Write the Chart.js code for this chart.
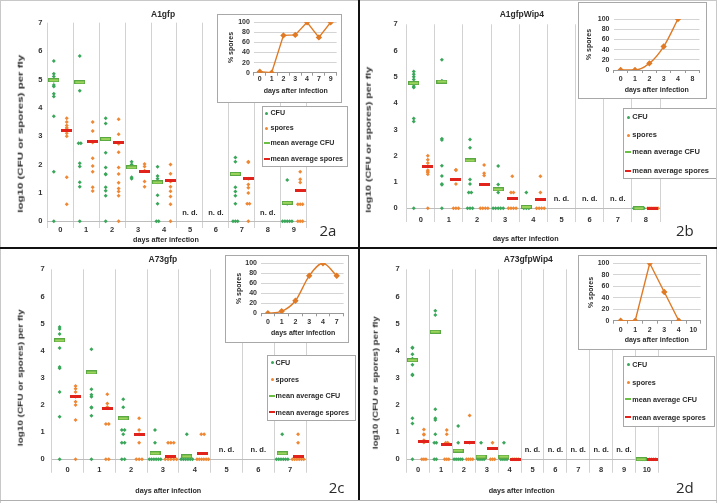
<!DOCTYPE html>
<html>
<head>
<meta charset="utf-8">
<script src="https://cdn.jsdelivr.net/npm/chart.js@4.4.1/dist/chart.umd.min.js"></script>
<style>
  html, body { margin: 0; padding: 0; background: #fff; }
  #fig { position: relative; width: 717px; height: 503px; overflow: hidden; font-family: "Liberation Sans", Arial, sans-serif; }
  #fig canvas { position: absolute; }
  .lbl { position: absolute; white-space: nowrap; line-height: 1; color: #2a2a2a; font-weight: bold; transform-origin: center center; }
  .box { position: absolute; box-sizing: border-box; background: #fff; border: 1px solid #a8a8a8; }
  .rule { position: absolute; }
</style>
</head>
<body>
<div id="fig"></div>
<script>
// ---- data (log10 values per fly) ----

// 2a  A1gfp
const a1Days = ['0', '1', '2', '3', '4', '5', '6', '7', '8', '9'];
const a1Cfu = [
  [5.65, 5.2, 5.1, 4.95, 4.8, 4.75, 4.5, 4.4, 3.7, 1.75, 0],
  [5.83, 4.6, 2.75, 2.75, 2.05, 1.93, 1.38, 1.22, 0],
  [3.63, 3.45, 2.9, 2.42, 1.9, 1.67, 1.65, 1.2, 1.08, 0.9, 0],
  [2.1, 2.0, 1.92, 1.55, 1.5],
  [1.92, 1.6, 1.5, 1.38, 0.92, 0.62, 0, 0],
  null, null,
  [2.25, 2.1, 1.68, 1.2, 1.05, 0.9, 0.62, 0, 0, 0],
  null,
  [1.46, 0.65, 0.62, 0, 0, 0, 0, 0]
];
const a1Spores = [
  [3.63, 3.5, 3.38, 3.3, 3.25, 3.1, 3.0, 1.55, 0.6],
  [3.5, 3.18, 2.8, 2.78, 2.22, 1.95, 1.75, 1.2, 1.07],
  [3.6, 3.07, 2.73, 2.43, 1.9, 1.67, 1.36, 1.16, 1.05, 0.9, 0],
  [2.02, 1.93, 1.78, 1.4, 1.22],
  [2.0, 1.68, 1.4, 1.22, 1.06, 0.87, 0.6, 0],
  null, null,
  [2.1, 2.08, 1.5, 1.3, 1.18, 1.0, 0.62, 0.62, 0],
  null,
  [1.75, 1.48, 1.37, 0.6, 0.6, 0.6, 0, 0, 0]
];
const a1CfuMean = [4.97, 4.9, 2.9, 1.9, 1.37, null, null, 1.67, null, 0.65];
const a1SporesMean = [3.2, 2.82, 2.76, 1.77, 1.43, null, null, 1.5, null, 1.1];
const a1InsetDays = ['0', '1', '2', '3', '4', '7', '9'];
const a1InsetSpores = [2, 0, 74, 75, 100, 70, 100];

// 2b  A1gfpWip4
const b1Days = ['0', '1', '2', '3', '4', '5', '6', '7', '8'];
const b1Cfu = [
  [5.2, 5.1, 5.0, 4.9, 4.8, 4.7, 4.62, 4.6, 3.42, 3.3, 0],
  [5.65, 4.85, 2.65, 2.6, 1.62, 1.23, 0.92, 0.9, 0],
  [2.62, 2.3, 1.1, 0.92, 0.6, 0.6, 0, 0, 0],
  [1.61, 0.91, 0.6, 0, 0, 0, 0, 0],
  [0.6, 0, 0, 0],
  null, null, null,
  [0, 0, 0, 0, 0, 0]
];
const b1Spores = [
  [2.0, 1.85, 1.72, 1.6, 1.45, 1.4, 1.36, 1.3, 0],
  [1.47, 1.45, 0.92, 0, 0, 0],
  [1.65, 1.33, 1.25, 0, 0, 0, 0],
  [1.22, 0.6, 0.6, 0, 0, 0, 0],
  [1.22, 0.6, 0, 0, 0, 0],
  null, null, null,
  [0, 0, 0, 0, 0, 0]
];
const b1CfuMean = [4.76, 4.82, 1.82, 0.72, 0.05, null, null, null, 0];
const b1SporesMean = [1.6, 1.08, 0.92, 0.38, 0.35, null, null, null, 0];
const b1InsetDays = ['0', '1', '2', '3', '4', '8'];
const b1InsetSpores = [0, 0, 13, 46, 100, null];

// 2c  A73gfp
const c1Days = ['0', '1', '2', '3', '4', '5', '6', '7'];
const c1Cfu = [
  [4.87, 4.8, 4.62, 4.1, 3.4, 3.35, 2.48, 1.57, 0],
  [4.05, 2.58, 2.38, 2.3, 1.92, 1.9, 1.6, 0],
  [2.21, 1.92, 1.08, 1.08, 0.92, 0.61, 0.61, 0, 0],
  [1.08, 0.61, 0, 0, 0, 0, 0, 0],
  [0.92, 0, 0, 0, 0, 0, 0],
  null, null,
  [0.92, 0, 0, 0, 0, 0, 0]
];
const c1Spores = [
  [2.7, 2.6, 2.48, 2.3, 2.12, 2.0, 1.45, 0],
  [2.4, 2.06, 1.93, 1.88, 1.3, 1.3, 0, 0],
  [1.51, 1.08, 0.92, 0.61, 0, 0, 0],
  [0.61, 0.61, 0.61, 0, 0, 0, 0, 0],
  [0.92, 0.92, 0, 0, 0, 0, 0, 0],
  null, null,
  [0.92, 0.61, 0, 0, 0, 0, 0, 0]
];
const c1CfuMean = [4.38, 3.2, 1.51, 0.22, 0.11, null, null, 0.22];
const c1SporesMean = [2.3, 1.87, 0.92, 0.09, 0.22, null, null, 0.09];
const c1InsetDays = ['0', '1', '2', '3', '4', '7'];
const c1InsetSpores = [0, 4, 25, 75, 100, 75];

// 2d  A73gfpWip4
const d1Days = ['0', '1', '2', '3', '4', '5', '6', '7', '8', '9', '10'];
const d1Cfu = [
  [4.12, 4.1, 3.87, 3.7, 3.48, 3.12, 3.1, 1.51, 1.32, 0],
  [5.47, 5.32, 1.84, 1.51, 1.45, 0.92, 0.61, 0.61, 0, 0],
  [1.23, 0.61, 0, 0, 0, 0, 0],
  [0.61, 0, 0, 0, 0],
  [0.61, 0, 0, 0, 0],
  null, null, null, null, null,
  [0, 0, 0, 0]
];
const d1Spores = [
  [1.1, 0.92, 0.9, 0.7, 0.62, 0, 0, 0],
  [1.08, 0.92, 0.61, 0.61, 0, 0, 0],
  [1.61, 0.61, 0, 0, 0, 0],
  [0.61, 0, 0, 0],
  [0, 0, 0, 0],
  null, null, null, null, null,
  [0, 0, 0, 0]
];
const d1CfuMean = [3.65, 4.7, 0.32, 0.1, 0.1, null, null, null, null, null, 0];
const d1SporesMean = [0.67, 0.53, 0.61, 0.41, 0, null, null, null, null, null, 0];
const d1InsetDays = ['0', '1', '2', '3', '4', '10'];
const d1InsetSpores = [0, 0, 100, 50, 0, null];

const yTicks = [0, 1, 2, 3, 4, 5, 6, 7];
const insetTicks = [0, 20, 40, 60, 80, 100];

// ---- styling ----
const green = '#3aa65a';
const orange = '#ef8733';
const red = '#e2231b';
const meanGreen = '#9bd45a';
const lineOrange = '#e07a25';
const FONT = '"Liberation Sans", Arial, sans-serif';
Chart.defaults.font.family = FONT;

const fig = document.getElementById('fig');

function addCanvas(x, y, w, h) {
  const c = document.createElement('canvas');
  c.width = w; c.height = h;
  c.style.left = x + 'px'; c.style.top = y + 'px';
  c.style.width = w + 'px'; c.style.height = h + 'px';
  fig.appendChild(c);
  return c;
}

function addBox(x, y, w, h) {
  const d = document.createElement('div');
  d.className = 'box';
  Object.assign(d.style, { left: x + 'px', top: y + 'px', width: w + 'px', height: h + 'px' });
  fig.appendChild(d);
}

function addRule(x, y, w, h, color) {
  const d = document.createElement('div');
  d.className = 'rule';
  Object.assign(d.style, { left: x + 'px', top: y + 'px', width: w + 'px', height: h + 'px', background: color });
  fig.appendChild(d);
}

// centred text; opts.length stretches it to a given length, opts.rotate turns it upright
function text(str, x, y, size, opts = {}) {
  const d = document.createElement('div');
  d.className = 'lbl';
  d.textContent = str;
  d.style.fontSize = size + 'px';
  if (opts.family) d.style.fontFamily = opts.family;
  if (opts.weight) d.style.fontWeight = opts.weight;
  fig.appendChild(d);
  const w = d.offsetWidth, h = d.offsetHeight;
  let t = '';
  if (opts.rotate) t += ' rotate(-90deg)';
  if (opts.length) t += ' scaleX(' + (opts.length / w).toFixed(3) + ')';
  d.style.transform = t;
  d.style.left = (opts.left ? x : x - w / 2) + 'px';
  d.style.top = (y - h / 2) + 'px';
}

function barImage(w, h, fill, stroke) {
  const c = document.createElement('canvas');
  c.width = w; c.height = h;
  const g = c.getContext('2d');
  g.fillStyle = fill;
  g.fillRect(0, 0, w, h);
  if (stroke) {
    g.strokeStyle = stroke;
    g.lineWidth = 1;
    g.strokeRect(0.5, 0.5, w - 1, h - 1);
  }
  return c;
}
const greenBar = barImage(11, 4, meanGreen, '#5aa843');
const redBar = barImage(11, 3, red);

// points of one day sit side by side when they share a value
function spread(lists, shift) {
  const pts = [];
  lists.forEach((vals, day) => {
    if (!vals) return;
    const count = {}, used = {};
    vals.forEach(v => { count[v] = (count[v] || 0) + 1; });
    vals.forEach(v => {
      const n = count[v];
      const k = used[v] = (used[v] || 0) + 1;
      const step = n > 1 ? Math.min(0.09, 0.36 / (n - 1)) : 0;
      pts.push({ x: day + shift + (k - 1 - (n - 1) / 2) * step, y: v });
    });
  });
  return pts;
}

function meanPoints(means, shift) {
  return means.map((v, i) => v === null ? null : { x: i + shift, y: v }).filter(Boolean);
}

const notDone = {
  id: 'notDone',
  afterDatasetsDraw(chart, args, opts) {
    const { ctx, scales: { x, y } } = chart;
    ctx.save();
    ctx.font = 'bold 7.5px ' + FONT;
    ctx.fillStyle = '#2a2a2a';
    ctx.textAlign = 'center';
    ctx.textBaseline = 'middle';
    opts.days.forEach(i => ctx.fillText('n. d.', x.getPixelForValue(i), y.getPixelForValue(opts.at)));
    ctx.restore();
  }
};

function mainChart(p) {
  const [bx, by, bw, bh] = p.box;
  const a = p.area;
  const unit = (a.y0 - a.t) / 7;
  const bottom = a.y0 - p.ymin * unit;
  const YW = 22, XH = 12;
  const tickFont = { size: 7.5, weight: 'bold' };
  const c = addCanvas(bx, by, bw, bh);

  new Chart(c, {
    type: 'scatter',
    data: {
      datasets: [
        { label: 'mean average CFU', data: meanPoints(p.cfuMean, -0.25), pointStyle: greenBar, pointRadius: 5 },
        { label: 'mean average spores', data: meanPoints(p.sporesMean, 0.25), pointStyle: redBar, pointRadius: 5 },
        { label: 'CFU', data: spread(p.cfu, -0.25), pointStyle: 'rectRot', pointRadius: 2, borderWidth: 0, backgroundColor: green },
        { label: 'spores', data: spread(p.spores, 0.25), pointStyle: 'rectRot', pointRadius: 2, borderWidth: 0, backgroundColor: orange }
      ]
    },
    options: {
      responsive: false,
      animation: false,
      devicePixelRatio: 1,
      layout: { padding: { left: a.l - bx - YW, top: a.t - by, right: bx + bw - a.r, bottom: by + bh - bottom - XH } },
      plugins: {
        legend: { display: false },
        tooltip: { enabled: false },
        notDone: { days: p.nd, at: p.ndAt }
      },
      scales: {
        x: {
          type: 'linear',
          min: -0.5,
          max: p.days.length - 0.5,
          afterBuildTicks: s => { s.ticks = p.days.map((d, i) => ({ value: i })); },
          afterFit: s => { s.height = XH; },
          grid: { offset: true, color: '#d2d2d2', tickLength: p.tickLen },
          border: { display: false },
          ticks: {
            callback: v => p.days[v],
            font: tickFont, color: '#333',
            padding: p.labelY - 4.8 - bottom - p.tickLen,
            autoSkip: false, maxRotation: 0
          }
        },
        y: {
          min: p.ymin,
          max: 7,
          afterBuildTicks: s => { s.ticks = yTicks.map(v => ({ value: v })); },
          afterFit: s => { s.width = YW; },
          grid: { color: ctx => ctx.tick && ctx.tick.value === 0 ? '#bdbdbd' : 'rgba(0,0,0,0)', drawTicks: false },
          border: { display: false },
          ticks: { font: tickFont, color: '#333', padding: p.yGap, autoSkip: false }
        }
      }
    },
    plugins: [notDone]
  });
}

function insetChart(q) {
  const [bx, by, bw, bh] = q.box;
  const a = q.area;
  const YW = 24, XH = 12;
  const tickFont = { size: 7, weight: 'bold' };
  addBox(bx, by, bw, bh);
  const c = addCanvas(bx, by, bw, bh);

  new Chart(c, {
    type: 'line',
    data: {
      labels: q.days,
      datasets: [{
        data: q.vals,
        borderColor: lineOrange,
        backgroundColor: lineOrange,
        borderWidth: 1.4,
        pointStyle: 'rectRot',
        pointRadius: 2.2,
        cubicInterpolationMode: q.smooth ? 'monotone' : 'default',
        tension: 0
      }]
    },
    options: {
      responsive: false,
      animation: false,
      devicePixelRatio: 1,
      layout: { padding: { left: a.l - bx - YW, top: a.t - by, right: bx + bw - a.r, bottom: by + bh - a.b - XH } },
      plugins: { legend: { display: false }, tooltip: { enabled: false } },
      scales: {
        x: {
          offset: true,
          afterFit: s => { s.height = XH; },
          grid: { offset: true, drawOnChartArea: false, tickLength: 3, color: '#9a9a9a' },
          border: { color: '#9a9a9a' },
          ticks: { font: tickFont, color: '#333', padding: q.labelY - 4.2 - a.b - 3, autoSkip: false, maxRotation: 0 }
        },
        y: {
          min: 0,
          max: 100,
          afterBuildTicks: s => { s.ticks = insetTicks.map(v => ({ value: v })); },
          afterFit: s => { s.width = YW; },
          grid: { color: '#d4d4d4', drawTicks: false },
          border: { display: false },
          ticks: { font: tickFont, color: '#333', padding: 4, autoSkip: false }
        }
      }
    }
  });

  text('% spores', q.yTitle[0], q.yTitle[1], 7, { rotate: true });
  text('days after infection', q.xTitle[0], q.xTitle[1], 7);
}

function legendBox(L) {
  addBox(...L.box);
  const items = [
    ['CFU', 'dot', green],
    ['spores', 'dot', orange],
    ['mean average CFU', 'bar', '#6cbf45'],
    ['mean average spores', 'bar', red]
  ];
  items.forEach((it, i) => {
    const y = L.rows[i];
    const m = document.createElement('div');
    m.style.position = 'absolute';
    m.style.background = it[2];
    if (it[1] === 'dot') {
      Object.assign(m.style, { width: '3px', height: '3px', left: (L.markerX - 1.5) + 'px', top: (y - 1.5) + 'px', borderRadius: '50%' });
    } else {
      Object.assign(m.style, { width: '6px', height: '2px', left: (L.markerX - 3) + 'px', top: (y - 1) + 'px' });
    }
    fig.appendChild(m);
    text(it[0], L.textX, y, L.font, { left: true });
  });
}

function panel(p) {
  mainChart(p);
  legendBox(p.legend);
  insetChart(p.inset);
  text(p.title, p.titleXY[0], p.titleXY[1], 8.5);
  text('log10 (CFU or spores) per fly', p.yTitle[0], p.yTitle[1], 7.5, { rotate: true, length: p.yTitle[2] });
  text('days after infection', p.xTitle[0], p.xTitle[1], 7.2);
  text(p.tag, p.tagXY[0], p.tagXY[1], 15, { weight: 'normal', family: '"Open Sans", sans-serif' });
}

panel({
  box: [0, 0, 357, 247], area: { l: 47.3, r: 306.7, t: 22.7, y0: 221.3 }, ymin: -0.2,
  tickLen: 1, labelY: 230, yGap: 5,
  days: a1Days, cfu: a1Cfu, spores: a1Spores, cfuMean: a1CfuMean, sporesMean: a1SporesMean,
  nd: [5, 6, 8], ndAt: 0.29,
  title: 'A1gfp', titleXY: [163, 14], yTitle: [20, 134, 158], xTitle: [166, 239], tag: '2a', tagXY: [328, 230],
  legend: { box: [262, 106, 86, 61], markerX: 266.7, textX: 270.5, rows: [113, 128, 143, 159], font: 7.1 },
  inset: { box: [217, 14, 125, 89], area: { l: 253.9, r: 339.4, t: 22.3, b: 72.7 }, labelY: 79,
           days: a1InsetDays, vals: a1InsetSpores, smooth: false, yTitle: [230.7, 47.5], xTitle: [295.7, 90.7] }
});

panel({
  box: [359, 0, 358, 247], area: { l: 406.7, r: 660, t: 24.3, y0: 208.3 }, ymin: -0.22,
  tickLen: 8, labelY: 220.7, yGap: 9,
  days: b1Days, cfu: b1Cfu, spores: b1Spores, cfuMean: b1CfuMean, sporesMean: b1SporesMean,
  nd: [5, 6, 7], ndAt: 0.35,
  title: 'A1gfpWip4', titleXY: [521.7, 14], yTitle: [368, 140, 146], xTitle: [525.7, 238], tag: '2b', tagXY: [685, 230],
  legend: { box: [622.7, 108.3, 94, 70.7], markerX: 628, textX: 632.3, rows: [117.3, 135, 152.3, 170.7], font: 7.5 },
  inset: { box: [578, 2, 129, 97], area: { l: 613.5, r: 699.5, t: 19, b: 70 }, labelY: 79,
           days: b1InsetDays, vals: b1InsetSpores, smooth: true, yTitle: [588.3, 44.5], xTitle: [656.7, 89] }
});

panel({
  box: [0, 248, 357, 255], area: { l: 51.7, r: 306, t: 269.3, y0: 459.3 }, ymin: -0.2,
  tickLen: 8, labelY: 470, yGap: 7,
  days: c1Days, cfu: c1Cfu, spores: c1Spores, cfuMean: c1CfuMean, sporesMean: c1SporesMean,
  nd: [5, 6], ndAt: 0.34,
  title: 'A73gfp', titleXY: [163, 259.3], yTitle: [20.7, 378.3, 137], xTitle: [168.3, 490], tag: '2c', tagXY: [336.7, 487],
  legend: { box: [266.7, 355, 89.3, 65.7], markerX: 272, textX: 275.5, rows: [362.3, 379, 395.7, 412.3], font: 7.2 },
  inset: { box: [225, 255, 124, 88], area: { l: 261, r: 347, t: 263.3, b: 313.3 }, labelY: 321.7,
           days: c1InsetDays, vals: c1InsetSpores, smooth: true, yTitle: [238, 288.3], xTitle: [303, 332.7] }
});

panel({
  box: [359, 248, 358, 255], area: { l: 406.7, r: 658.3, t: 269.3, y0: 459.3 }, ymin: -0.2,
  tickLen: 8, labelY: 470, yGap: 7,
  days: d1Days, cfu: d1Cfu, spores: d1Spores, cfuMean: d1CfuMean, sporesMean: d1SporesMean,
  nd: [5, 6, 7, 8, 9], ndAt: 0.34,
  title: 'A73gfpWip4', titleXY: [528.3, 259.3], yTitle: [375.7, 383.3, 133], xTitle: [521.7, 490], tag: '2d', tagXY: [685, 487],
  legend: { box: [623.3, 356, 91.7, 70.7], markerX: 628, textX: 632.3, rows: [364, 382.3, 399, 417.3], font: 7.2 },
  inset: { box: [578, 255, 129, 95], area: { l: 613.4, r: 700.6, t: 263.3, b: 320.7 }, labelY: 330,
           days: d1InsetDays, vals: d1InsetSpores, smooth: false, yTitle: [590, 292], xTitle: [656.7, 339.3] }
});

// panel frames
addRule(0, 0, 717, 1, '#c8c8c8');
addRule(0, 0, 1, 503, '#c8c8c8');
addRule(716, 0, 1, 503, '#c8c8c8');
addRule(0, 500, 717, 1, '#b0b0b0');
addRule(0, 247, 717, 1.5, '#111');
addRule(357.5, 0, 2, 500, '#111');
</script>
</body>
</html>
